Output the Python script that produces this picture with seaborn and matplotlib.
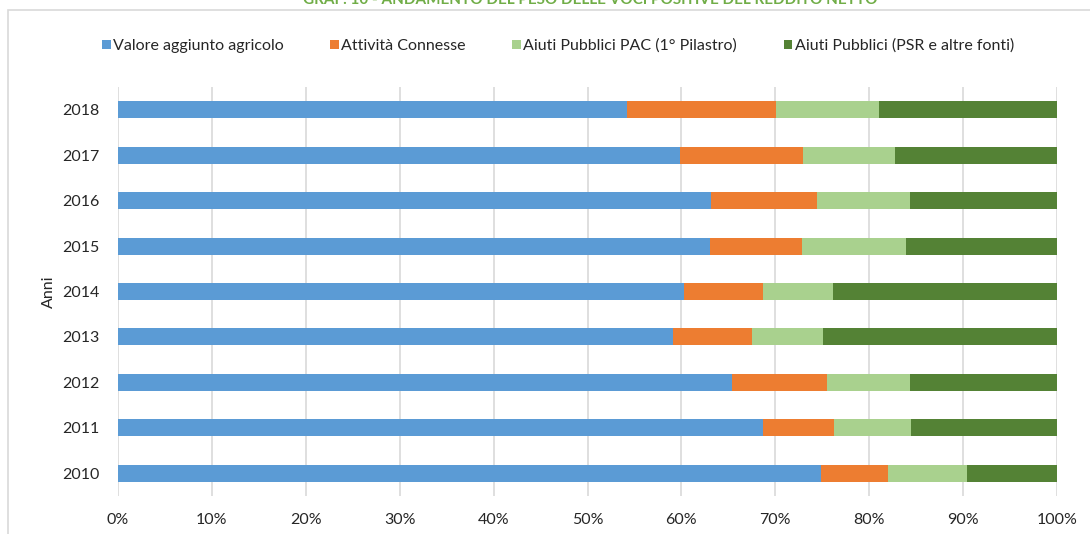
import matplotlib
matplotlib.use("Agg")
import matplotlib.pyplot as plt
from matplotlib.patches import Rectangle, Patch
from matplotlib.ticker import FuncFormatter
import numpy as np
import pandas as pd
import seaborn as sns

# Shares (%) of the positive components of net income, by year
anni = ["2010", "2011", "2012", "2013", "2014", "2015", "2016", "2017", "2018"]
valore_aggiunto = [74.9, 68.7, 65.4, 59.1, 60.3, 63.0, 63.2, 59.9, 54.2]
attivita_connesse = [7.1, 7.6, 10.1, 8.4, 8.4, 9.8, 11.2, 13.1, 15.9]
aiuti_pac = [8.4, 8.2, 8.8, 7.6, 7.4, 11.1, 9.9, 9.7, 10.9]
aiuti_psr = [9.6, 15.5, 15.7, 24.9, 23.9, 16.1, 15.7, 17.3, 19.0]

serie = ["Valore aggiunto agricolo", "Attività Connesse",
         "Aiuti Pubblici PAC (1° Pilastro)", "Aiuti Pubblici (PSR e altre fonti)"]
colori = ["#5B9BD5", "#ED7D31", "#A9D18E", "#548235"]
x_ticks = [0, 10, 20, 30, 40, 50, 60, 70, 80, 90, 100]

sns.set_theme(style="white")
plt.rcParams["font.family"] = ["Lato", "DejaVu Sans"]

df = pd.DataFrame({"Anni": anni, serie[0]: valore_aggiunto, serie[1]: attivita_connesse,
                   serie[2]: aiuti_pac, serie[3]: aiuti_psr})
order = anni[::-1]

fig = plt.figure(figsize=(10.9, 5.34), dpi=100)
ax = fig.add_axes([118 / 1090, 1 - 496 / 534, (1057 - 118) / 1090, (496 - 87) / 534])

# stacked bars: draw cumulative totals from the outermost segment inward
cum = df[serie].cumsum(axis=1)
for s, c in reversed(list(zip(serie, colori))):
    sns.barplot(data=pd.DataFrame({"Anni": df["Anni"], "v": cum[s]}), x="v", y="Anni",
                order=order, orient="h", color=c, saturation=1, width=0.375,
                edgecolor="none", ax=ax, zorder=3)

ax.set_xlim(0, 100)
ax.set_xticks(x_ticks)
ax.xaxis.set_major_formatter(FuncFormatter(lambda v, p: f"{v:.0f}%"))
ax.grid(axis="x", color="#D9D9D9", linewidth=1.2, zorder=0)
ax.grid(axis="y", visible=False)
for sp in ax.spines.values():
    sp.set_visible(False)
ax.tick_params(axis="both", length=0, labelsize=11.5, labelcolor="#262626")
ax.tick_params(axis="x", pad=12)
ax.tick_params(axis="y", pad=13)
ax.set_xlabel("")
ax.set_ylabel("Anni", fontsize=11.5, color="#262626")
ax.yaxis.set_label_coords(-0.066, 0.5)

# chart frame
fig.patches.append(Rectangle((8 / 1090, -0.05), 1.1, 1 - 10 / 534 + 0.05,
                             transform=fig.transFigure, facecolor="none",
                             edgecolor="#D9D9D9", linewidth=1.2, zorder=0))

handles = [Patch(facecolor=c, edgecolor="none") for c in colori]
fig.legend(handles, serie, loc="center", bbox_to_anchor=(558 / 1090, 1 - 46 / 534),
           ncol=4, frameon=False, fontsize=11.5, handlelength=0.55, handleheight=0.55,
           handletextpad=0.15, columnspacing=2.9, labelcolor="#262626")

fig.text(590 / 1090, 1.0, "GRAF. 10 - ANDAMENTO DEL PESO DELLE VOCI POSITIVE DEL REDDITO NETTO",
         ha="center", va="center", fontsize=11, fontweight="bold", color="#70AD47")

fig.savefig("out.png", dpi=100)
